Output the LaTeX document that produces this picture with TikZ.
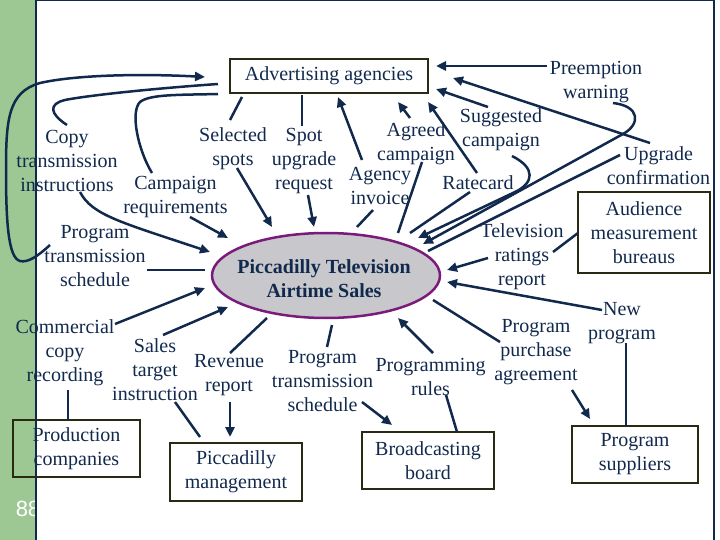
\documentclass[tikz,border=0pt]{standalone}
\usepackage{fontspec}
\setmainfont{Liberation Serif}
\newfontfamily\pgnum{Liberation Sans}
\usetikzlibrary{arrows.meta,shapes.geometric}
\definecolor{navy}{HTML}{11294D}
\definecolor{boxc}{HTML}{2A2A14}
\definecolor{stripe}{HTML}{9DC894}
\definecolor{ellfill}{HTML}{C8C8CC}
\definecolor{ellline}{HTML}{7A1A7A}
\begin{document}
\begin{tikzpicture}[x=1pt,y=-1pt,
  lbl/.style={text=navy, font=\fontsize{20}{24}\selectfont, align=center, inner sep=0pt},
  boxnode/.style={lbl, draw=boxc, line width=2.2pt},
  con/.style={draw=navy, line width=2.5pt},
  arr/.style={con, -{Triangle[length=10pt,width=9pt]}},
]
\useasboundingbox (0,0) rectangle (720,540);
% background
\fill[stripe] (0,0) rectangle (36,540);
\node[text=white, font=\pgnum\fontsize{22}{24}\selectfont, inner sep=0pt] (pg) at (28,509) {88};
\draw[navy, line width=1.5pt] (36,540) -- (36,0.75) -- (714,0.75) -- (714,540);

% boxes
\node[boxnode, minimum width=198, minimum height=34] (adv) at (329,76) {Advertising agencies};
\node[boxnode, minimum width=132, minimum height=81] (aud) at (644,232.5) {Audience\\measurement\\bureaus};
\node[boxnode, minimum width=127, minimum height=57] (prod) at (76.5,448.5) {Production\\companies};
\node[boxnode, minimum width=132, minimum height=58] (mgmt) at (236,472) {Piccadilly\\management};
\node[boxnode, minimum width=132, minimum height=57] (bb) at (428,460.5) {Broadcasting\\board};
\node[boxnode, minimum width=126, minimum height=57] (sup) at (635,454.5) {Program\\suppliers};

% central ellipse
\node[ellipse, draw=ellline, fill=ellfill, line width=2.5pt, minimum width=228, minimum height=85, inner sep=0pt] (ell) at (326,275.5) {};
\node[lbl, font=\fontsize{20}{24}\selectfont\bfseries] (elltext) at (324,279) {Piccadilly Television\\Airtime Sales};

% labels
\node[lbl] (copy) at (67,161) {Copy\\transmission\\instructions};
\node[lbl] (sel) at (233,148.5) {Selected\\spots};
\node[lbl] (spot) at (304,161) {Spot\\upgrade\\request};
\node[lbl] (camp) at (175.5,197) {Campaign\\requirements};
\node[lbl] (pts1) at (95,256) {Program\\transmission\\schedule};
\node[lbl] (comm) at (65,353) {Commercial\\copy\\recording};
\node[lbl] (sales) at (155,370) {Sales\\target\\instruction};
\node[lbl] (rev) at (229,375.5) {Revenue\\report};
\node[lbl] (pts2) at (322.5,381.5) {Program\\transmission\\schedule};
\node[lbl] (rules) at (430.5,376.5) {Programming\\rules};
\node[lbl] (purch) at (536,352.5) {Program\\purchase\\agreement};
\node[lbl] (newp) at (622,323) {New\\program};
\node[lbl] (tvr) at (522,257) {Television\\ratings\\report};
\node[lbl] (upg) at (658.5,165.5) {Upgrade\\confirmation};
\node[lbl] (pre) at (596,82.5) {Preemption\\warning};
\node[lbl] (sugg) at (501,129.5) {Suggested\\campaign};
\node[lbl] (agr) at (416,143.5) {Agreed\\campaign};
\node[lbl] (inv) at (380,185.5) {Agency\\invoice};
\node[lbl] (rate) at (478,183) {Ratecard};

% connector end points
\coordinate (a1) at (242,97);  \coordinate (a2) at (230,120);
\coordinate (b1) at (237,168); \coordinate (b2) at (272,227);
\coordinate (c1) at (302,95);  \coordinate (c2) at (302,126);
\coordinate (d1) at (308,195); \coordinate (d2) at (314,227);
\coordinate (e1) at (362,160); \coordinate (e2) at (338,97);
\coordinate (f1) at (357,227); \coordinate (f2) at (373,210);
\coordinate (g1) at (410,118); \coordinate (g2) at (398,102);
\coordinate (h1) at (422,162); \coordinate (h2) at (398,233);
\coordinate (i1) at (477,173); \coordinate (i2) at (428,102);
\coordinate (j1) at (470,192); \coordinate (j2) at (410,233);
\coordinate (k1) at (488,107); \coordinate (k2) at (436,89);
\coordinate (l1) at (512,156); \coordinate (l2) at (418,238);
\coordinate (m1) at (547,66);  \coordinate (m2) at (436,66);
\coordinate (n1) at (613,103); \coordinate (n2) at (423,244);
\coordinate (o1) at (650,143); \coordinate (o2) at (453,78);
\coordinate (p1) at (620,155); \coordinate (p2) at (428,251);
\coordinate (q1) at (578,233); \coordinate (q2) at (553,252);
\coordinate (r1) at (488,258); \coordinate (r2) at (447,270);
\coordinate (s1) at (602,310); \coordinate (s2) at (447,282);
\coordinate (t1) at (626,343); \coordinate (t2) at (626,426);
\coordinate (u1) at (433,300); \coordinate (u2) at (500,342);
\coordinate (v1) at (572,390); \coordinate (v2) at (590,419);
\coordinate (w1) at (433,353); \coordinate (w2) at (398,318);
\coordinate (x1) at (446,395); \coordinate (x2) at (457,432);
\coordinate (y1) at (332,325); \coordinate (y2) at (327,347);
\coordinate (z1) at (362,402); \coordinate (z2) at (392,425);
\coordinate (aa1) at (230,353); \coordinate (aa2) at (267,318);
\coordinate (bb1) at (230,402); \coordinate (bb2) at (230,437);
\coordinate (cc1) at (163,335); \coordinate (cc2) at (228,307);
\coordinate (dd1) at (175,402); \coordinate (dd2) at (200,437);
\coordinate (ee1) at (115,324); \coordinate (ee2) at (205,288);
\coordinate (ff1) at (68,390);  \coordinate (ff2) at (68,420);
\coordinate (gg1) at (147,270); \coordinate (gg2) at (205,270);
\coordinate (hh1) at (190,217); \coordinate (hh2) at (228,238);

% straight connectors
\draw[con] (a1) -- (a2);
\draw[arr] (b1) -- (b2);
\draw[con] (c1) -- (c2);
\draw[arr] (d1) -- (d2);
\draw[arr] (e1) -- (e2);
\draw[con] (f1) -- (f2);
\draw[arr] (g1) -- (g2);
\draw[con] (h1) -- (h2);
\draw[arr] (i1) -- (i2);
\draw[con] (j1) -- (j2);
\draw[arr] (k1) -- (k2);
\draw[arr] (m1) -- (m2);
\draw[arr] (o1) -- (o2);
\draw[con] (p1) -- (p2);
\draw[con] (q1) -- (q2);
\draw[arr] (r1) -- (r2);
\draw[arr] (s1) -- (s2);
\draw[con] (t1) -- (t2);
\draw[con] (u1) -- (u2);
\draw[arr] (v1) -- (v2);
\draw[arr] (w1) -- (w2);
\draw[con] (x1) -- (x2);
\draw[con] (y1) -- (y2);
\draw[arr] (z1) -- (z2);
\draw[con] (aa1) -- (aa2);
\draw[arr] (bb1) -- (bb2);
\draw[arr] (cc1) -- (cc2);
\draw[con] (dd1) -- (dd2);
\draw[arr] (ee1) -- (ee2);
\draw[con] (ff1) -- (ff2);
\draw[con] (gg1) -- (gg2);
\draw[arr] (hh1) -- (hh2);

% curved connectors
\draw[arr] (l1) .. controls (536,168) and (534,183) .. (515,192) -- (l2);
\draw[arr] (n1) .. controls (640,106) and (641,124) .. (623,134) -- (n2);
% program transmission schedule (left) to advertising agencies
\coordinate (ii1) at (50,245); \coordinate (ii2) at (205,77);
\draw[arr] (ii1) .. controls (38,256) and (28,263) .. (20,261)
  .. controls (8,258) and (6,220) .. (6,170)
  .. controls (6,120) and (8,92) .. (40,83)
  .. controls (80,74) and (150,74) .. (ii2);
% copy transmission instructions
\coordinate (jj1) at (218,84); \coordinate (jj2) at (67,125);
\draw[con] (jj1) .. controls (160,88) and (90,95) .. (65,100)
  .. controls (48,104) and (50,114) .. (jj2);
\coordinate (kk1) at (80,192); \coordinate (kk2) at (210,252);
\draw[arr] (kk1) .. controls (92,215) and (120,222) .. (kk2);
% campaign requirements
\coordinate (ll1) at (218,94); \coordinate (ll2) at (152,173);
\draw[con] (ll1) .. controls (180,95) and (150,94) .. (140,102)
  .. controls (130,112) and (138,150) .. (ll2);
\end{tikzpicture}
\end{document}
